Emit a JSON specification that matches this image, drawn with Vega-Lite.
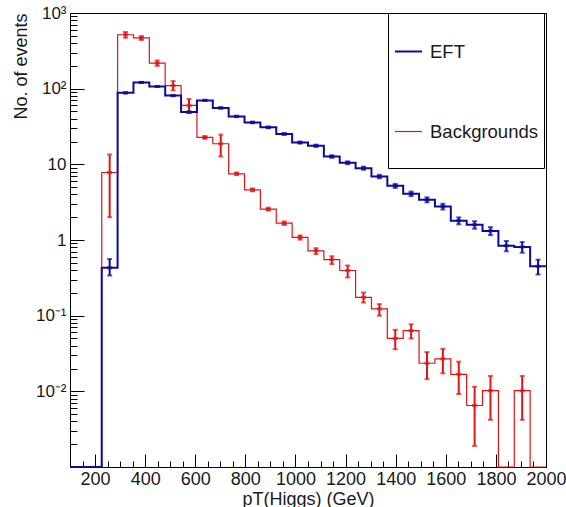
{
  "$schema": "https://vega.github.io/schema/vega-lite/v6.json",
  "width": 476,
  "height": 454,
  "autosize": "none",
  "padding": {"left": 70, "top": 13, "right": 20, "bottom": 40},
  "background": "white",
  "config": {
    "font": "Liberation Sans",
    "view": {"stroke": "#000000", "strokeWidth": 1},
    "axis": {"grid": false, "domainColor": "#000000", "tickColor": "#000000", "labelColor": "#1a1a1a", "titleColor": "#1a1a1a", "titleFontWeight": "normal", "labelFlush": false, "labelOverlap": false}
  },
  "data": {"values": [
    {"s":"Backgrounds","lo":100,"hi":163.33,"c":131.67,"v":0},
    {"s":"Backgrounds","lo":163.33,"hi":226.67,"c":195,"v":0},
    {"s":"Backgrounds","lo":226.67,"hi":290,"c":258.33,"v":7.8,"elo":2.0,"ehi":13.5},
    {"s":"Backgrounds","lo":290,"hi":353.33,"c":321.67,"v":516,"elo":471,"ehi":561},
    {"s":"Backgrounds","lo":353.33,"hi":416.67,"c":385,"v":468,"elo":440,"ehi":495},
    {"s":"Backgrounds","lo":416.67,"hi":480,"c":448.33,"v":218,"elo":200,"ehi":236},
    {"s":"Backgrounds","lo":480,"hi":543.33,"c":511.67,"v":110,"elo":95,"ehi":126},
    {"s":"Backgrounds","lo":543.33,"hi":606.67,"c":575,"v":60,"elo":48,"ehi":73},
    {"s":"Backgrounds","lo":606.67,"hi":670,"c":638.33,"v":22.7,"elo":21.7,"ehi":23.7},
    {"s":"Backgrounds","lo":670,"hi":733.33,"c":701.67,"v":18.7,"elo":12.7,"ehi":24.7},
    {"s":"Backgrounds","lo":733.33,"hi":796.67,"c":765,"v":7.5,"elo":7.2,"ehi":7.8},
    {"s":"Backgrounds","lo":796.67,"hi":860,"c":828.33,"v":4.6,"elo":4.4,"ehi":4.8},
    {"s":"Backgrounds","lo":860,"hi":923.33,"c":891.67,"v":2.56,"elo":2.45,"ehi":2.67},
    {"s":"Backgrounds","lo":923.33,"hi":986.67,"c":955,"v":1.67,"elo":1.58,"ehi":1.76},
    {"s":"Backgrounds","lo":986.67,"hi":1050,"c":1018.33,"v":1.08,"elo":1.01,"ehi":1.15},
    {"s":"Backgrounds","lo":1050,"hi":1113.33,"c":1081.67,"v":0.72,"elo":0.65,"ehi":0.78},
    {"s":"Backgrounds","lo":1113.33,"hi":1176.67,"c":1145,"v":0.55,"elo":0.48,"ehi":0.61},
    {"s":"Backgrounds","lo":1176.67,"hi":1240,"c":1208.33,"v":0.395,"elo":0.32,"ehi":0.46},
    {"s":"Backgrounds","lo":1240,"hi":1303.33,"c":1271.67,"v":0.175,"elo":0.149,"ehi":0.202},
    {"s":"Backgrounds","lo":1303.33,"hi":1366.67,"c":1335,"v":0.123,"elo":0.1,"ehi":0.142},
    {"s":"Backgrounds","lo":1366.67,"hi":1430,"c":1398.33,"v":0.05,"elo":0.036,"ehi":0.065},
    {"s":"Backgrounds","lo":1430,"hi":1493.33,"c":1461.67,"v":0.0635,"elo":0.05,"ehi":0.077},
    {"s":"Backgrounds","lo":1493.33,"hi":1556.67,"c":1525,"v":0.0235,"elo":0.0145,"ehi":0.033},
    {"s":"Backgrounds","lo":1556.67,"hi":1620,"c":1588.33,"v":0.0269,"elo":0.0173,"ehi":0.0364},
    {"s":"Backgrounds","lo":1620,"hi":1683.33,"c":1651.67,"v":0.0168,"elo":0.0092,"ehi":0.0247},
    {"s":"Backgrounds","lo":1683.33,"hi":1746.67,"c":1715,"v":0.0065,"elo":0.0019,"ehi":0.0115},
    {"s":"Backgrounds","lo":1746.67,"hi":1810,"c":1778.33,"v":0.0102,"elo":0.0042,"ehi":0.016},
    {"s":"Backgrounds","lo":1810,"hi":1873.33,"c":1841.67,"v":0},
    {"s":"Backgrounds","lo":1873.33,"hi":1936.67,"c":1905,"v":0.0102,"elo":0.0042,"ehi":0.016},
    {"s":"Backgrounds","lo":1936.67,"hi":2000,"c":1968.33,"v":0},
    {"s":"EFT","lo":100,"hi":163.33,"c":131.67,"v":0},
    {"s":"EFT","lo":163.33,"hi":226.67,"c":195,"v":0},
    {"s":"EFT","lo":226.67,"hi":290,"c":258.33,"v":0.43,"elo":0.34,"ehi":0.56},
    {"s":"EFT","lo":290,"hi":353.33,"c":321.67,"v":88,"elo":86.7,"ehi":89.3},
    {"s":"EFT","lo":353.33,"hi":416.67,"c":385,"v":121,"elo":119.4,"ehi":122.6},
    {"s":"EFT","lo":416.67,"hi":480,"c":448.33,"v":107,"elo":105.5,"ehi":108.5},
    {"s":"EFT","lo":480,"hi":543.33,"c":511.67,"v":81,"elo":79.7,"ehi":82.3},
    {"s":"EFT","lo":543.33,"hi":606.67,"c":575,"v":49,"elo":48,"ehi":50},
    {"s":"EFT","lo":606.67,"hi":670,"c":638.33,"v":70,"elo":68.8,"ehi":71.2},
    {"s":"EFT","lo":670,"hi":733.33,"c":701.67,"v":55.6,"elo":54.5,"ehi":56.7},
    {"s":"EFT","lo":733.33,"hi":796.67,"c":765,"v":43,"elo":42.1,"ehi":43.9},
    {"s":"EFT","lo":796.67,"hi":860,"c":828.33,"v":35.8,"elo":34.95,"ehi":36.65},
    {"s":"EFT","lo":860,"hi":923.33,"c":891.67,"v":30.8,"elo":30,"ehi":31.6},
    {"s":"EFT","lo":923.33,"hi":986.67,"c":955,"v":25.2,"elo":24.5,"ehi":25.9},
    {"s":"EFT","lo":986.67,"hi":1050,"c":1018.33,"v":19.4,"elo":18.8,"ehi":20},
    {"s":"EFT","lo":1050,"hi":1113.33,"c":1081.67,"v":17.6,"elo":17,"ehi":18.2},
    {"s":"EFT","lo":1113.33,"hi":1176.67,"c":1145,"v":12.7,"elo":12.2,"ehi":13.2},
    {"s":"EFT","lo":1176.67,"hi":1240,"c":1208.33,"v":10.5,"elo":10.05,"ehi":10.95},
    {"s":"EFT","lo":1240,"hi":1303.33,"c":1271.67,"v":8.9,"elo":8.48,"ehi":9.32},
    {"s":"EFT","lo":1303.33,"hi":1366.67,"c":1335,"v":6.9,"elo":6.53,"ehi":7.27},
    {"s":"EFT","lo":1366.67,"hi":1430,"c":1398.33,"v":5.2,"elo":4.88,"ehi":5.52},
    {"s":"EFT","lo":1430,"hi":1493.33,"c":1461.67,"v":4.08,"elo":3.8,"ehi":4.36},
    {"s":"EFT","lo":1493.33,"hi":1556.67,"c":1525,"v":3.4,"elo":3.14,"ehi":3.66},
    {"s":"EFT","lo":1556.67,"hi":1620,"c":1588.33,"v":2.77,"elo":2.53,"ehi":3.01},
    {"s":"EFT","lo":1620,"hi":1683.33,"c":1651.67,"v":1.8,"elo":1.61,"ehi":1.99},
    {"s":"EFT","lo":1683.33,"hi":1746.67,"c":1715,"v":1.59,"elo":1.41,"ehi":1.77},
    {"s":"EFT","lo":1746.67,"hi":1810,"c":1778.33,"v":1.32,"elo":1.16,"ehi":1.48},
    {"s":"EFT","lo":1810,"hi":1873.33,"c":1841.67,"v":0.84,"elo":0.71,"ehi":0.97},
    {"s":"EFT","lo":1873.33,"hi":1936.67,"c":1905,"v":0.81,"elo":0.68,"ehi":0.94},
    {"s":"EFT","lo":1936.67,"hi":2000,"c":1968.33,"v":0.45,"elo":0.35,"ehi":0.55}
  ]},
  "resolve": {"axis": {"x": "independent", "y": "independent"}},
  "layer": [
    {
      "transform": [{"fold": ["lo", "hi"], "as": ["edge", "x"]}],
      "mark": {"type": "line", "invalid": null},
      "encoding": {
        "x": {"field": "x", "type": "quantitative",
          "scale": {"domain": [100, 2000], "nice": false, "zero": false},
          "axis": {"orient": "bottom", "values": [200,400,600,800,1000,1200,1400,1600,1800,2000], "format": "d",
            "ticks": false, "labelPadding": 17, "labelBaseline": "alphabetic", "labelFontSize": 18,
            "title": "pT(Higgs) (GeV)", "titleFontSize": 18, "titleY": 37, "titleBaseline": "alphabetic"}},
        "y": {"field": "v", "type": "quantitative",
          "scale": {"type": "log", "domain": [0.001, 1000], "nice": false, "clamp": true},
          "axis": {"orient": "left", "values": [0.001, 0.01, 0.1, 1, 10, 100, 1000],
            "labelExpr": "datum.value >= 999 ? '10³' : datum.value >= 99 ? '10²' : datum.value >= 9 ? '10' : datum.value >= 0.9 ? '1' : datum.value >= 0.09 ? '10⁻¹' : datum.value >= 0.009 ? '10⁻²' : ''",
            "ticks": false, "labelPadding": 4, "labelFontSize": 17,
            "title": "No. of events", "titleFontSize": 18, "titleAngle": -90, "titleX": -44, "titleY": 0,
            "titleAlign": "right", "titleBaseline": "alphabetic"}},
        "color": {"field": "s", "type": "nominal",
          "scale": {"domain": ["EFT", "Backgrounds"], "range": ["#0c0c9c", "#e01515"]},
          "legend": {"orient": "none", "legendX": 318, "legendY": 0, "title": " ", "titleFontSize": 10, "titlePadding": 8, "strokeColor": "#000000", "fillColor": "white",
            "padding": 6, "symbolType": "stroke", "symbolSize": 729, "labelFontSize": 18.5, "labelColor": "#1a1a1a",
            "labelOffset": 7, "rowPadding": 35, "labelExpr": "[datum.label, '']"}},
        "strokeWidth": {"field": "s", "type": "nominal",
          "scale": {"domain": ["EFT", "Backgrounds"], "range": [2, 1.2]},
          "legend": {"orient": "none", "legendX": 318, "legendY": 0, "title": " ", "titleFontSize": 10, "titlePadding": 8, "strokeColor": "#000000", "fillColor": "white",
            "padding": 6, "symbolType": "stroke", "symbolSize": 729, "labelFontSize": 18.5, "labelColor": "#1a1a1a",
            "labelOffset": 7, "rowPadding": 35, "labelExpr": "[datum.label, '']"}},
        "order": [{"field": "x", "type": "quantitative"}, {"field": "edge", "type": "ordinal"}]
      }
    },
    {
      "mark": {"type": "rule", "strokeWidth": 2},
      "encoding": {
        "x": {"field": "c", "type": "quantitative",
          "axis": {"orient": "bottom", "offset": -6, "values": [150,250,300,350,450,500,550,650,700,750,850,900,950,1050,1100,1150,1250,1300,1350,1450,1500,1550,1650,1700,1750,1850,1900,1950],
            "tickSize": 6, "labels": false, "domain": false, "title": null}},
        "y": {"field": "elo", "type": "quantitative",
          "axis": {"orient": "left", "offset": -7, "values": [0.002,0.003,0.004,0.005,0.006,0.007,0.008,0.009,0.02,0.03,0.04,0.05,0.06,0.07,0.08,0.09,0.2,0.3,0.4,0.5,0.6,0.7,0.8,0.9,2,3,4,5,6,7,8,9,20,30,40,50,60,70,80,90,200,300,400,500,600,700,800,900],
            "tickSize": 7, "labels": false, "domain": false, "title": null}},
        "y2": {"field": "ehi"},
        "color": {"field": "s", "type": "nominal", "legend": null}
      }
    },
    {
      "mark": {"type": "tick", "orient": "horizontal", "size": 5, "thickness": 2},
      "encoding": {
        "x": {"field": "c", "type": "quantitative",
          "axis": {"orient": "bottom", "offset": -13, "values": [200,400,600,800,1000,1200,1400,1600,1800,2000],
            "tickSize": 13, "labels": false, "domain": false, "title": null}},
        "y": {"field": "elo", "type": "quantitative",
          "axis": {"orient": "left", "offset": -14, "values": [0.01, 0.1, 1, 10, 100, 1000],
            "tickSize": 14, "labels": false, "domain": false, "title": null}},
        "color": {"field": "s", "type": "nominal", "legend": null}
      }
    },
    {
      "mark": {"type": "tick", "orient": "horizontal", "size": 5, "thickness": 2},
      "encoding": {
        "x": {"field": "c", "type": "quantitative", "axis": null},
        "y": {"field": "ehi", "type": "quantitative", "axis": null},
        "color": {"field": "s", "type": "nominal", "legend": null}
      }
    },
    {
      "transform": [{"filter": "datum.v > 0"}],
      "mark": {"type": "tick", "orient": "horizontal", "size": 5, "thickness": 3},
      "encoding": {
        "x": {"field": "c", "type": "quantitative", "axis": null},
        "y": {"field": "v", "type": "quantitative", "axis": null},
        "color": {"field": "s", "type": "nominal", "legend": null}
      }
    }
  ]
}
